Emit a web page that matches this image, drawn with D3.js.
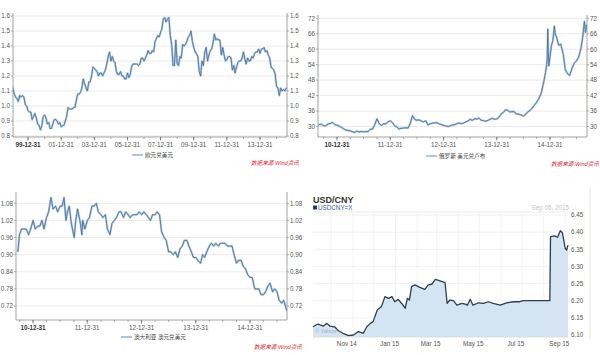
<!DOCTYPE html>
<html><head><meta charset="utf-8">
<script src="https://cdn.jsdelivr.net/npm/d3@7/dist/d3.min.js"></script>
<style>
body{margin:0;background:#fff}
svg{display:block}
text{font-family:"Liberation Sans","Noto Sans CJK SC",sans-serif}
</style></head>
<body><svg id="c" width="600" height="355"></svg>
<script>
// ---------------- DATA ----------------
// EUR/USD monthly, starting 1999-01
const eurStartMonth = "1999-01";
const eurValues = [
1.17,1.12,1.08,1.06,1.05,1.03,1.07,1.06,1.07,1.06,1.01,1.00,
0.97,0.96,0.96,0.91,0.93,0.95,0.92,0.88,0.87,0.84,0.87,0.93,
0.94,0.92,0.88,0.89,0.85,0.85,0.88,0.91,0.91,0.90,0.88,0.89,
0.86,0.87,0.87,0.90,0.93,0.99,0.98,0.98,0.98,0.99,0.99,1.04,
1.08,1.08,1.09,1.12,1.18,1.15,1.12,1.10,1.16,1.16,1.20,1.26,
1.25,1.24,1.23,1.20,1.22,1.22,1.20,1.22,1.24,1.28,1.33,1.36,
1.30,1.33,1.30,1.29,1.23,1.21,1.21,1.23,1.20,1.20,1.18,1.18,
1.22,1.19,1.21,1.26,1.28,1.28,1.28,1.28,1.27,1.28,1.32,1.32,
1.30,1.32,1.34,1.37,1.35,1.35,1.37,1.36,1.43,1.45,1.47,1.46,
1.49,1.52,1.58,1.59,1.56,1.58,1.59,1.47,1.41,1.27,1.27,1.44,
1.28,1.27,1.33,1.32,1.41,1.40,1.41,1.43,1.46,1.47,1.50,1.43,
1.39,1.36,1.35,1.33,1.23,1.20,1.30,1.27,1.36,1.39,1.30,1.34,
1.37,1.38,1.42,1.48,1.44,1.45,1.44,1.44,1.34,1.39,1.34,1.30,
1.31,1.33,1.33,1.32,1.24,1.27,1.22,1.26,1.29,1.30,1.30,1.32,
1.36,1.31,1.28,1.32,1.30,1.30,1.33,1.32,1.35,1.36,1.36,1.38,
1.35,1.38,1.38,1.39,1.36,1.37,1.34,1.32,1.26,1.25,1.24,1.21,
1.13,1.12,1.07,1.12,1.10,1.11,1.10,1.12,1.12];
const eurTicks = [0.8,0.9,1.0,1.1,1.2,1.3,1.4,1.5,1.6];
const eurXLabels = ["1999-12-31","2001-12-31","2003-12-31","2005-12-31","2007-12-31","2009-12-31","2011-12-31","2013-12-31"];

// USD/RUB
const rubDates = ["2010-08-22","2010-09-01","2010-09-15","2010-10-01","2010-10-15","2010-11-01","2010-11-15","2010-12-01","2010-12-15",
"2011-01-01","2011-01-15","2011-02-01","2011-02-15","2011-03-01","2011-03-15","2011-04-01","2011-04-15","2011-05-01","2011-05-15","2011-06-01","2011-06-15","2011-07-01","2011-07-15","2011-08-01","2011-08-15","2011-09-01","2011-09-15","2011-10-01","2011-10-15","2011-11-01","2011-11-15","2011-12-01","2011-12-15",
"2012-01-01","2012-01-15","2012-02-01","2012-02-15","2012-03-01","2012-03-15","2012-04-01","2012-04-15","2012-05-01","2012-05-15","2012-06-01","2012-06-15","2012-07-01","2012-07-15","2012-08-01","2012-08-15","2012-09-01","2012-09-15","2012-10-01","2012-10-15","2012-11-01","2012-11-15","2012-12-01","2012-12-15",
"2013-01-01","2013-01-15","2013-02-01","2013-02-15","2013-03-01","2013-03-15","2013-04-01","2013-04-15","2013-05-01","2013-05-15","2013-06-01","2013-06-15","2013-07-01","2013-07-15","2013-08-01","2013-08-15","2013-09-01","2013-09-15","2013-10-01","2013-10-15","2013-11-01","2013-11-15","2013-12-01","2013-12-15",
"2014-01-01","2014-01-15","2014-02-01","2014-02-15","2014-03-01","2014-03-15","2014-04-01","2014-04-15","2014-05-01","2014-05-15","2014-06-01","2014-06-15","2014-07-01","2014-07-15","2014-08-01","2014-08-15","2014-09-01","2014-09-15","2014-10-01","2014-10-15","2014-11-01","2014-11-15","2014-12-01","2014-12-08","2014-12-12","2014-12-16","2014-12-19","2014-12-23","2014-12-31",
"2015-01-10","2015-01-20","2015-01-30","2015-02-05","2015-02-15","2015-03-01","2015-03-15","2015-04-01","2015-04-15","2015-05-01","2015-05-15","2015-06-01","2015-06-15","2015-07-01","2015-07-15","2015-08-01","2015-08-12","2015-08-24","2015-09-01","2015-09-08"];
const rubValues = [30.5,30.8,30.9,30.2,30.3,31.0,31.2,31.6,30.8,
30.5,30.2,29.6,29.1,28.6,28.5,28.3,28.0,27.7,28.2,27.9,28.1,27.9,28.1,28.0,28.9,29.0,30.6,33.0,31.2,30.4,31.1,31.0,31.8,
32.2,31.5,30.2,29.8,29.0,29.3,29.4,29.5,29.4,31.0,34.2,32.8,32.4,32.6,32.1,31.8,32.2,30.6,31.1,31.3,31.4,31.5,31.0,30.8,
30.4,30.2,30.0,30.3,30.6,30.7,31.1,31.4,31.1,31.3,31.8,32.1,32.8,32.4,33.0,32.9,33.2,32.4,32.3,32.0,32.4,32.8,33.2,32.8,
32.9,33.6,35.0,35.5,36.5,36.3,35.6,35.8,35.7,34.8,34.8,34.5,34.0,34.6,35.7,36.2,37.2,38.3,39.4,40.8,43.0,46.5,51.0,54.0,57.0,67.8,60.0,53.5,57.0,
61.5,63.5,69.0,66.0,64.5,61.5,62.0,58.0,52.0,50.5,49.8,52.8,54.5,55.5,56.8,60.5,64.5,70.8,66.5,69.5];
const rubTicks = [30,36,42,48,54,60,66,72];
const rubXLabels = ["2010-12-31","2011-12-31","2012-12-31","2013-12-31","2014-12-31"];

// AUD/USD
const audDates = ["2010-09-20","2010-10-01","2010-10-15","2010-11-01","2010-11-15","2010-12-01","2010-12-15",
"2011-01-01","2011-01-15","2011-02-01","2011-02-15","2011-03-01","2011-03-15","2011-04-01","2011-04-15","2011-05-01","2011-05-15","2011-06-01","2011-06-15","2011-07-01","2011-07-15","2011-07-28","2011-08-10","2011-08-20","2011-09-01","2011-09-15","2011-10-04","2011-10-15","2011-10-27","2011-11-15","2011-11-25","2011-12-01","2011-12-15",
"2012-01-01","2012-01-15","2012-02-01","2012-02-15","2012-03-01","2012-03-15","2012-04-01","2012-04-15","2012-05-01","2012-05-15","2012-06-01","2012-06-15","2012-07-01","2012-07-15","2012-08-01","2012-08-15","2012-09-01","2012-09-15","2012-10-01","2012-10-15","2012-11-01","2012-11-15","2012-12-01","2012-12-15",
"2013-01-01","2013-01-15","2013-02-01","2013-02-15","2013-03-01","2013-03-15","2013-04-01","2013-04-15","2013-05-01","2013-05-15","2013-06-01","2013-06-15","2013-07-01","2013-07-15","2013-08-01","2013-08-15","2013-09-01","2013-09-15","2013-10-01","2013-10-15","2013-11-01","2013-11-15","2013-12-01","2013-12-15",
"2014-01-01","2014-01-15","2014-02-01","2014-02-15","2014-03-01","2014-03-15","2014-04-01","2014-04-15","2014-05-01","2014-05-15","2014-06-01","2014-06-15","2014-07-01","2014-07-15","2014-08-01","2014-08-15","2014-09-01","2014-09-15","2014-10-01","2014-10-15","2014-11-01","2014-11-15","2014-12-01","2014-12-15",
"2015-01-01","2015-01-15","2015-02-01","2015-02-15","2015-03-01","2015-03-15","2015-04-01","2015-04-15","2015-05-01","2015-05-15","2015-06-01","2015-06-15","2015-07-01","2015-07-15","2015-08-01","2015-08-15","2015-09-01","2015-09-08"];
const audValues = [0.91,0.97,0.99,0.99,0.99,0.97,0.99,
1.02,0.99,1.00,1.00,1.02,0.99,1.03,1.05,1.10,1.06,1.07,1.05,1.07,1.07,1.10,1.02,1.05,1.07,1.01,0.96,1.02,1.06,1.01,0.97,1.02,0.99,
1.02,1.03,1.07,1.07,1.08,1.05,1.04,1.03,1.04,0.99,0.97,1.01,1.02,1.03,1.05,1.05,1.03,1.05,1.04,1.03,1.04,1.04,1.04,1.05,
1.04,1.05,1.04,1.03,1.02,1.04,1.04,1.05,1.04,0.98,0.96,0.95,0.91,0.91,0.90,0.91,0.89,0.92,0.93,0.95,0.95,0.93,0.91,0.89,
0.89,0.88,0.87,0.90,0.89,0.91,0.93,0.94,0.93,0.94,0.93,0.94,0.94,0.94,0.93,0.93,0.93,0.90,0.87,0.88,0.88,0.86,0.85,0.83,
0.82,0.82,0.78,0.78,0.78,0.76,0.76,0.77,0.79,0.80,0.77,0.78,0.77,0.74,0.73,0.74,0.71,0.70];
const audTicks = [0.72,0.78,0.84,0.90,0.96,1.02,1.08];
const audXLabels = rubXLabels;

// USD/CNY
const cnyDates = ["2014-09-05","2014-09-12","2014-09-20","2014-09-25","2014-09-29","2014-10-06","2014-10-11","2014-10-18","2014-10-26","2014-11-02","2014-11-09","2014-11-16","2014-11-21","2014-11-26","2014-11-30","2014-12-06","2014-12-12","2014-12-17","2014-12-22","2014-12-27","2014-12-31",
"2015-01-05","2015-01-10","2015-01-15","2015-01-18","2015-01-21","2015-01-24","2015-01-29","2015-02-05","2015-02-12","2015-02-17","2015-02-22","2015-02-27","2015-03-06","2015-03-13","2015-03-16","2015-03-20","2015-03-25","2015-03-30","2015-04-06","2015-04-11","2015-04-14","2015-04-18","2015-04-22","2015-04-30","2015-05-07","2015-05-14","2015-05-21","2015-05-31","2015-06-09","2015-06-19","2015-06-28","2015-07-03","2015-08-10","2015-08-11","2015-08-17","2015-08-21","2015-08-25","2015-08-28","2015-09-01","2015-09-03","2015-09-05"];
const cnyValues = [6.124,6.132,6.126,6.134,6.126,6.124,6.113,6.105,6.098,6.100,6.110,6.105,6.124,6.134,6.139,6.173,6.183,6.212,6.207,6.212,6.197,
6.204,6.192,6.178,6.207,6.202,6.241,6.246,6.239,6.233,6.246,6.248,6.262,6.258,6.253,6.192,6.202,6.200,6.187,6.192,6.190,6.187,6.204,6.187,6.194,6.192,6.197,6.192,6.187,6.194,6.197,6.197,6.200,6.200,6.387,6.389,6.385,6.404,6.398,6.353,6.348,6.362];
const cnyTicks = [6.10,6.15,6.20,6.25,6.30,6.35,6.40,6.45];
const cnyXLabels = ["2014-11-01","2015-01-01","2015-03-01","2015-05-01","2015-07-01","2015-09-01"];
const cnyXNames = ["Nov 14","Jan 15","Mar 15","May 15","Jul 15","Sep 15"];

// ---------------- DRAW ----------------
const P = d3.timeParse("%Y-%m-%d");
const svg = d3.select("#c");
const startM = d3.timeParse("%Y-%m")(eurStartMonth);
const eurData = eurValues.map((v,i)=>({d:d3.timeMonth.offset(startM,i), v}));
const rubData = rubDates.map((d,i)=>({d:P(d), v:rubValues[i]}));
const audData = audDates.map((d,i)=>({d:P(d), v:audValues[i]}));
const cnyData = cnyDates.map((d,i)=>({d:P(d), v:cnyValues[i]}));

function windPanel(id, data, cfg){
  const g = svg.append("g");
  const x = d3.scaleTime().domain(cfg.xAnchor.map(P)).range(cfg.xAnchorPx);
  const y = d3.scaleLinear().domain(cfg.yDom).range(cfg.yPx);
  const [L,R,T,B] = cfg.box;
  g.append("clipPath").attr("id",id).append("rect").attr("x",L).attr("y",T).attr("width",R-L).attr("height",B-T);
  g.selectAll(".gr").data(cfg.ticks).join("line")
    .attr("x1",L).attr("x2",R).attr("y1",d=>y(d)).attr("y2",d=>y(d))
    .attr("stroke","#e6e6e6").attr("stroke-width",0.8);
  g.append("line").attr("x1",L).attr("x2",L).attr("y1",T).attr("y2",B).attr("stroke","#8a8a8a").attr("stroke-width",0.8);
  g.append("line").attr("x1",R).attr("x2",R).attr("y1",T).attr("y2",B).attr("stroke","#8a8a8a").attr("stroke-width",0.8);
  g.append("line").attr("x1",L).attr("x2",R).attr("y1",B).attr("y2",B).attr("stroke","#8a8a8a").attr("stroke-width",0.8);
  cfg.ticks.forEach(t=>{
    g.append("line").attr("x1",L-2).attr("x2",L).attr("y1",y(t)).attr("y2",y(t)).attr("stroke","#8a8a8a").attr("stroke-width",0.7);
    g.append("line").attr("x1",R).attr("x2",R+2).attr("y1",y(t)).attr("y2",y(t)).attr("stroke","#8a8a8a").attr("stroke-width",0.7);
    g.append("text").attr("x",L-3).attr("y",y(t)+2.3).attr("text-anchor","end").attr("font-size",6.3).attr("fill","#555").text(cfg.fmt(t));
    g.append("text").attr("x",R+3).attr("y",y(t)+2.3).attr("font-size",6.3).attr("fill","#555").text(cfg.fmt(t));
  });
  const minor = cfg.minor.range(d3.timeDay.offset(x.invert(L),1), x.invert(R));
  g.selectAll(".mt").data(minor).join("line")
    .attr("x1",d=>x(d)).attr("x2",d=>x(d)).attr("y1",B).attr("y2",B+2)
    .attr("stroke","#8a8a8a").attr("stroke-width",0.7);
  cfg.xLabels.forEach((s,i)=>{
    const xx = x(P(s));
    g.append("line").attr("x1",xx).attr("x2",xx).attr("y1",B).attr("y2",B+3.5).attr("stroke","#666").attr("stroke-width",0.8);
    g.append("text").attr("x",xx).attr("y",B+10).attr("text-anchor","middle").attr("font-size",6.3)
      .attr("font-weight",i===0?"bold":"normal").attr("fill",i===0?"#333":"#555")
      .text(d3.timeFormat("%y-%m-%d")(P(s)));
  });
  const line = d3.line().x(d=>x(d.d)).y(d=>y(d.v));
  const lg = g.append("g").attr("clip-path",`url(#${id})`);
  lg.append("path").datum(data).attr("d",line).attr("fill","none").attr("stroke","#b3c8e0").attr("stroke-width",2.1).attr("stroke-linejoin","round");
  lg.append("path").datum(data).attr("d",line).attr("fill","none").attr("stroke","#44709e").attr("stroke-width",0.85).attr("stroke-linejoin","round");
  const [lx,ly] = cfg.legend;
  g.append("line").attr("x1",lx).attr("x2",lx+11).attr("y1",ly-2).attr("y2",ly-2).attr("stroke","#7f9fc4").attr("stroke-width",1.2);
  g.append("text").attr("x",lx+13).attr("y",ly).attr("font-size",5.6).attr("fill","#444").text(cfg.name);
  g.append("text").attr("x",cfg.mark[0]).attr("y",cfg.mark[1]).attr("font-size",5.6).attr("font-style","italic")
    .attr("fill","#d9262b").attr("font-family","Noto Sans CJK SC").text("数据来源 Wind资讯");
}

windPanel("c1", eurData, {box:[13,287,13,137], xAnchor:["1999-12-31","2013-12-31"], xAnchorPx:[28,260],
  yDom:[0.8,1.6], yPx:[136,16], ticks:eurTicks, fmt:d3.format(".1f"), xLabels:eurXLabels, minor:d3.timeYear,
  legend:[132,157], name:"欧元兑美元", mark:[251,165]});
windPanel("c2", rubData, {box:[318,587,15,137], xAnchor:["2010-12-31","2014-12-31"], xAnchorPx:[337,550],
  yDom:[30,72], yPx:[126.5,18.3], ticks:rubTicks, fmt:d3.format("d"), xLabels:rubXLabels, minor:d3.timeMonth.every(3),
  legend:[426,158], name:"俄罗斯 美元兑卢布", mark:[551,166]});
windPanel("c3", audData, {box:[16,287,192,320], xAnchor:["2010-12-31","2014-12-31"], xAnchorPx:[33,250],
  yDom:[0.72,1.08], yPx:[306,203.3], ticks:audTicks, fmt:d3.format(".2f"), xLabels:audXLabels, minor:d3.timeMonth.every(3),
  legend:[121,339], name:"澳大利亚 澳元兑美元", mark:[254,349]});

// ---- Yahoo USD/CNY panel ----
(function(){
  const g = svg.append("g");
  const L=313, R=568, T=212, B=337;
  const x = d3.scaleTime().domain([P("2014-09-05"),P("2015-09-05")]).range([L,R]);
  const y = d3.scaleLinear().domain([6.10,6.45]).range([335,215]);
  g.append("line").attr("x1",590).attr("x2",590).attr("y1",186).attr("y2",340).attr("stroke","#e2e2e2").attr("stroke-width",0.8);
  g.append("line").attr("x1",L).attr("x2",R).attr("y1",T).attr("y2",T).attr("stroke","#e4e4e4").attr("stroke-width",0.8);
  const months = d3.timeMonth.range(P("2014-09-06"), P("2015-09-05"));
  g.selectAll(".vg").data(months).join("line").attr("x1",d=>x(d)).attr("x2",d=>x(d)).attr("y1",T).attr("y2",B)
    .attr("stroke","#f1f1f1").attr("stroke-width",0.8);
  g.selectAll(".hg").data(cnyTicks).join("line").attr("x1",L).attr("x2",R).attr("y1",d=>y(d)).attr("y2",d=>y(d))
    .attr("stroke","#eeeeee").attr("stroke-width",0.8);
  const area = d3.area().x(d=>x(d.d)).y0(B).y1(d=>y(d.v));
  g.append("path").datum(cnyData).attr("d",area).attr("fill","#d5e4f2");
  const line = d3.line().x(d=>x(d.d)).y(d=>y(d.v));
  g.append("path").datum(cnyData).attr("d",line).attr("fill","none").attr("stroke","#2d3e50").attr("stroke-width",1.3).attr("stroke-linejoin","round");
  g.append("line").attr("x1",L).attr("x2",R).attr("y1",B).attr("y2",B).attr("stroke","#d8d8d8").attr("stroke-width",0.8);
  cnyTicks.forEach(t=>{
    g.append("text").attr("x",571).attr("y",y(t)+2.3).attr("font-size",6.3).attr("fill","#555").text(d3.format(".2f")(t));
  });
  cnyXLabels.forEach((s,i)=>{
    g.append("text").attr("x",x(P(s))-6).attr("y",346).attr("text-anchor","middle").attr("font-size",6.3).attr("fill","#555").text(cnyXNames[i]);
  });
  g.append("text").attr("x",313).attr("y",203).attr("font-size",9).attr("font-weight","bold").attr("fill","#333").text("USD/CNY");
  g.append("rect").attr("x",313).attr("y",205.5).attr("width",4).attr("height",4).attr("fill","#1f3f66");
  g.append("text").attr("x",318).attr("y",209.8).attr("font-size",6.3).attr("fill","#2d5f9a").text("USDCNY=X");
  g.append("text").attr("x",569).attr("y",209.8).attr("text-anchor","end").attr("font-size",6.3).attr("fill","#c4c4c4").text("Sep 05, 2015");
  g.append("text").attr("x",315).attr("y",333).attr("font-size",5.5).attr("fill","#9fb0c4").text("© Yahoo!");
})();
</script></body></html>
